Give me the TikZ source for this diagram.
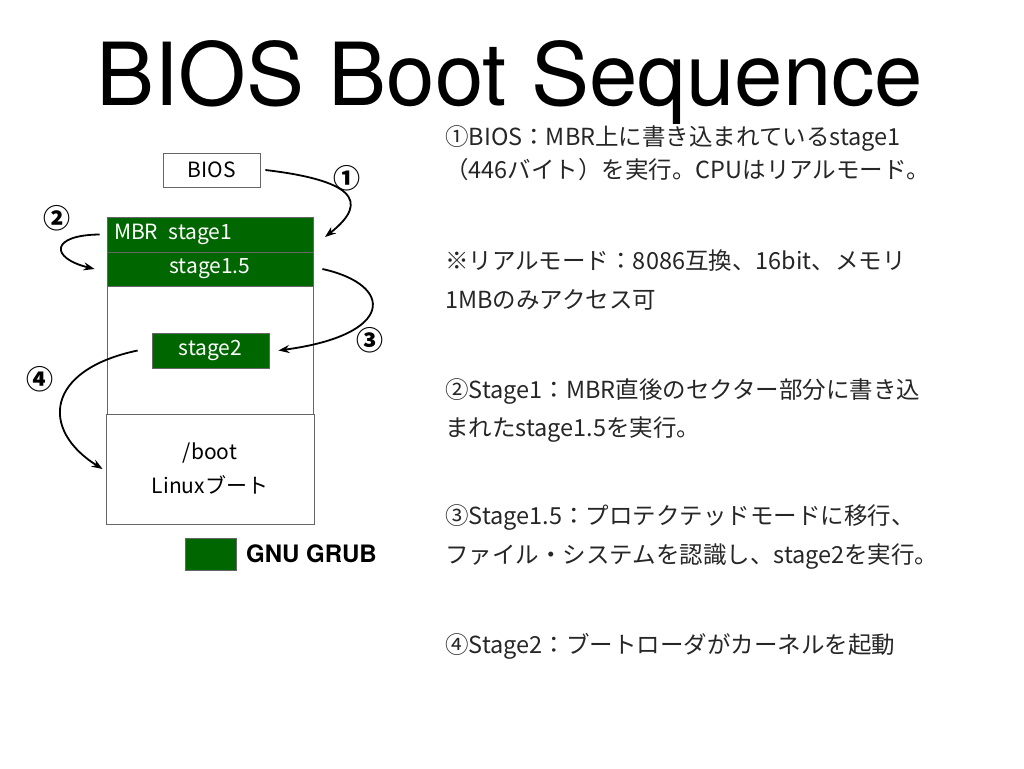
\documentclass[tikz,border=0pt]{standalone}
\usepackage{fontspec}
\setmainfont{Noto Sans CJK JP}
\newfontfamily\heros{TeX Gyre Heros}
\usetikzlibrary{arrows.meta}
\definecolor{grubgreen}{RGB}{0,102,0}
\begin{document}
\begin{tikzpicture}[x=1pt,y=-1pt,
  box/.style={draw=black!60,line width=0.8pt,inner sep=0pt,font=\fontsize{21pt}{25pt}\selectfont},
  grn/.style={box,fill=grubgreen,text=white},
  arr/.style={line width=1.8pt,-{Stealth[length=11pt,width=8pt]}},
  num/.style={font=\fontsize{27pt}{30pt}\selectfont\bfseries},
  desc/.style={anchor=base west,inner sep=0pt,font=\fontsize{23.5pt}{28pt}\selectfont,text=black!85}]
\useasboundingbox (0,0) rectangle (1024,768);
\def\desc#1#2#3{\node[desc] (#1) at (445,#2) {#3};}
\node[anchor=base,inner sep=0pt,font=\fontsize{87pt}{100pt}\selectfont\heros] (title) at (510,105) {BIOS Boot Sequence};
\node[box,minimum width=97pt,minimum height=34pt] (bios) at (211.5,170) {BIOS};
\node[grn,minimum width=206pt,minimum height=35pt,text width=192pt,align=left] (mbr) at (210,234.5) {MBR\hspace{0.5em}stage1};
\node[grn,minimum width=206pt,minimum height=34pt] (s15) at (210,269) {stage1.5};
\node[box,minimum width=206pt,minimum height=128pt] (disk) at (210,350) {};
\node[grn,minimum width=117pt,minimum height=35pt] (st2) at (210.5,350.5) {stage2};
\node[box,minimum width=208pt,minimum height=110pt,align=center,font=\fontsize{21pt}{34pt}\selectfont] (boot) at (210,469) {/boot\\Linuxブート};
\node[grn,minimum width=51pt,minimum height=32pt] (key) at (210.5,554) {};
\node[anchor=west,inner sep=0pt,font=\fontsize{24pt}{28pt}\selectfont\heros\bfseries] (keytxt) at (246,554) {GNU GRUB};
\node[num] (n1) at (347,178) {①};
\node[num] (n2) at (57,218) {②};
\node[num] (n3) at (370,340) {③};
\node[num] (n4) at (40,379) {④};
\coordinate (in1) at (325,237);
\draw[arr] ([xshift=5pt]bios.east) .. controls (350,180) and (372,200) .. (in1);
\draw[arr] ([xshift=-7pt]mbr.west) .. controls (50,235) and (50,258) .. ([xshift=-12pt]s15.west);
\draw[arr] ([xshift=9pt]s15.east) .. controls (395,285) and (395,335) .. ([xshift=9pt]st2.east);
\draw[arr] ([xshift=-14pt]st2.west) .. controls (45,370) and (40,430) .. ([xshift=-3pt]boot.west);
\desc{d1}{145}{①BIOS：MBR上に書き込まれているstage1}
\desc{d2}{178}{（446バイト）を実行。CPUはリアルモード。}
\desc{d3}{269}{※リアルモード：8086互換、16bit、メモリ}
\desc{d4}{308}{1MBのみアクセス可}
\desc{d5}{398}{②Stage1：MBR直後のセクター部分に書き込}
\desc{d6}{436}{まれたstage1.5を実行。}
\desc{d7}{524}{③Stage1.5：プロテクテッドモードに移行、}
\desc{d8}{563}{ファイル・システムを認識し、stage2を実行。}
\desc{d9}{653}{④Stage2：ブートローダがカーネルを起動}
\end{tikzpicture}
\end{document}
